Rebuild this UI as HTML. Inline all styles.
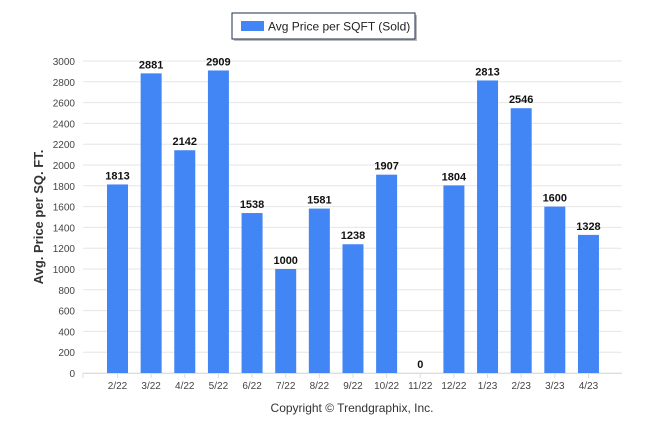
<!DOCTYPE html>
<html><head><meta charset="utf-8"><style>
body{margin:0;background:#fff;}
svg{font-family:"Liberation Sans",Arial,sans-serif;}
</style></head><body>
<svg id="chart" width="646" height="434" viewBox="0 0 646 434">
<g>
<rect x="234" y="15" width="183" height="26" fill="#555" opacity="0.4"/>
<rect x="232" y="13" width="183" height="26" fill="#fff" stroke="#1f2d4d" stroke-width="1"/>
<rect x="241" y="21" width="23" height="10" fill="#4285f4"/>
<text x="268" y="30.5" font-size="12" fill="#222">Avg Price per SQFT (Sold)</text>
</g>
<g id="grid"></g>
<g id="bars"></g>
<g id="labels"></g>
<text transform="translate(43,217) rotate(-90)" text-anchor="middle" font-size="13" font-weight="bold" fill="#333">Avg. Price per SQ. FT.</text>
<text x="352" y="412" text-anchor="middle" font-size="12" fill="#333">Copyright © Trendgraphix, Inc.</text>
</svg>
<script>
const categories=["2/22","3/22","4/22","5/22","6/22","7/22","8/22","9/22","10/22","11/22","12/22","1/23","2/23","3/23","4/23"];
const values=[1813,2881,2142,2909,1538,1000,1581,1238,1907,0,1804,2813,2546,1600,1328];
const yTicks=[0,200,400,600,800,1000,1200,1400,1600,1800,2000,2200,2400,2600,2800,3000];
const NS="http://www.w3.org/2000/svg";
const y0=373,yTop=61,yMax=3000;
function y(v){return y0-(v/yMax)*(y0-yTop);}
function x(i){return 117.5+i*33.64;}
function mk(t,a,p){const e=document.createElementNS(NS,t);for(const k in a)e.setAttribute(k,a[k]);p.appendChild(e);return e;}
const grid=document.getElementById('grid'),bars=document.getElementById('bars'),labels=document.getElementById('labels');
yTicks.forEach(t=>{
 const l=mk('line',{x1:83,x2:622,y1:y(t),y2:y(t),stroke:'#e6e6e6','stroke-width':1},grid);
 
 
 const tx=mk('text',{x:75,y:y(t)+4,'text-anchor':'end','font-size':10,fill:'#444'},grid);
 tx.textContent=t;
 
 
});
const ax=mk('line',{x1:83,x2:622,y1:y0+0.5,y2:y0+0.5,stroke:'#ddd'},grid);


categories.forEach((c,i)=>{
 const v=values[i];
 const r=mk('rect',{x:x(i)-10.5,y:y(v),width:21,height:y0-y(v),fill:'#4285f4'},bars);
 
 
 const vt=mk('text',{x:x(i),y:y(v)-5,'text-anchor':'middle','font-size':11,'font-weight':'bold',fill:'#111'},labels);
 vt.textContent=v;
 
 
 const tk=mk('line',{x1:x(i),x2:x(i),y1:y0,y2:y0+5,stroke:'#ddd'},grid);
 
 
 const ct=mk('text',{x:x(i),y:389,'text-anchor':'middle','font-size':10,fill:'#444'},labels);
 ct.textContent=c;
 
 
});
const t0=mk('line',{x1:83,x2:83,y1:y0,y2:y0+5,stroke:'#ddd'},grid);


</script>
</body></html>
